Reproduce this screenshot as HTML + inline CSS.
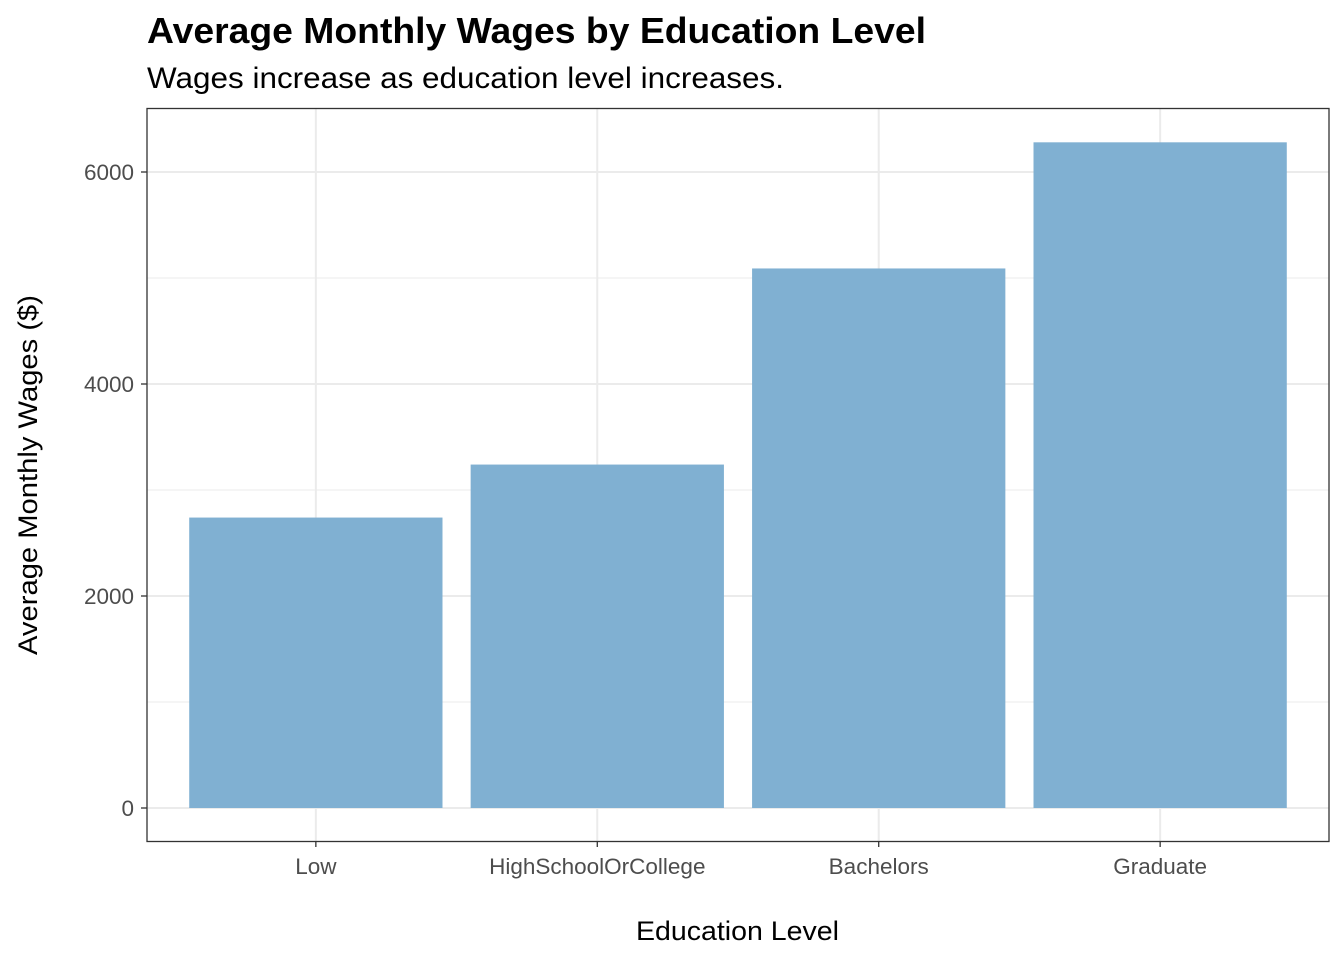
<!DOCTYPE html>
<html><head><meta charset="utf-8"><style>
html,body{margin:0;padding:0;background:#fff;}
svg{display:block;font-family:"Liberation Sans",Arial,sans-serif;}
</style></head><body>
<svg id="chart" width="1344" height="960">
<text x="147" y="43" font-size="36" font-weight="bold" fill="#000" textLength="779" lengthAdjust="spacingAndGlyphs">Average Monthly Wages by Education Level</text>
<text x="147" y="88" font-size="30" fill="#000" textLength="637" lengthAdjust="spacingAndGlyphs">Wages increase as education level increases.</text>
<g id="grid"></g>
<g id="bars"></g>
<rect x="147" y="108.5" width="1182" height="733" fill="none" stroke="#333" stroke-width="1.3"/>
<g id="axes"></g>
<text x="636" y="940" font-size="27" fill="#000" textLength="203" lengthAdjust="spacingAndGlyphs">Education Level</text>
<text transform="translate(37,655) rotate(-90)" font-size="27" fill="#000" textLength="360" lengthAdjust="spacingAndGlyphs">Average Monthly Wages ($)</text>
</svg>
<script>
const categories = ["Low","HighSchoolOrCollege","Bachelors","Graduate"];
const wages = [2740, 3240, 5090, 6280];
const yTicks = [0, 2000, 4000, 6000];
const yMinor = [1000, 3000, 5000];

const NS = "http://www.w3.org/2000/svg";
const px0 = 147, px1 = 1329, py0 = 108, py1 = 841;
const y = v => 808 - v * 0.106;
const unit = (px1 - px0) / (categories.length - 1 + 1.2);
const x = i => px0 + unit * (0.6 + i);
function mk(tag, attrs, parent){const e=document.createElementNS(NS,tag);for(const k in attrs)e.setAttribute(k,attrs[k]);parent.appendChild(e);return e;}
const grid=document.getElementById('grid'), bars=document.getElementById('bars'), axes=document.getElementById('axes');

yMinor.forEach(v=>{const l=mk('line',{x1:px0,x2:px1,y1:y(v),y2:y(v),stroke:'#ebebeb','stroke-width':1},grid);

});
yTicks.forEach(v=>{const l=mk('line',{x1:px0,x2:px1,y1:y(v),y2:y(v),stroke:'#ebebeb','stroke-width':2},grid);


const t=mk('line',{x1:px0-6,x2:px0,y1:y(v),y2:y(v),stroke:'#333','stroke-width':1.3},axes);


const tx=mk('text',{x:px0-13,y:y(v)+8,'font-size':22.5,'text-anchor':'end',fill:'#4d4d4d'},axes);
tx.textContent=v;

});
categories.forEach((c,i)=>{const l=mk('line',{x1:x(i),x2:x(i),y1:py0,y2:py1,stroke:'#ebebeb','stroke-width':2},grid);


const w=unit*0.9;
const b=mk('rect',{x:x(i)-w/2,y:y(wages[i]),width:w,height:y(0)-y(wages[i]),fill:'#80b0d2'},bars);


const t=mk('line',{x1:x(i),x2:x(i),y1:py1,y2:py1+6,stroke:'#333','stroke-width':1.3},axes);


const tx=mk('text',{x:x(i),y:874,'font-size':22.5,'text-anchor':'middle',fill:'#4d4d4d'},axes);
tx.textContent=c;

});
</script>
</body></html>
